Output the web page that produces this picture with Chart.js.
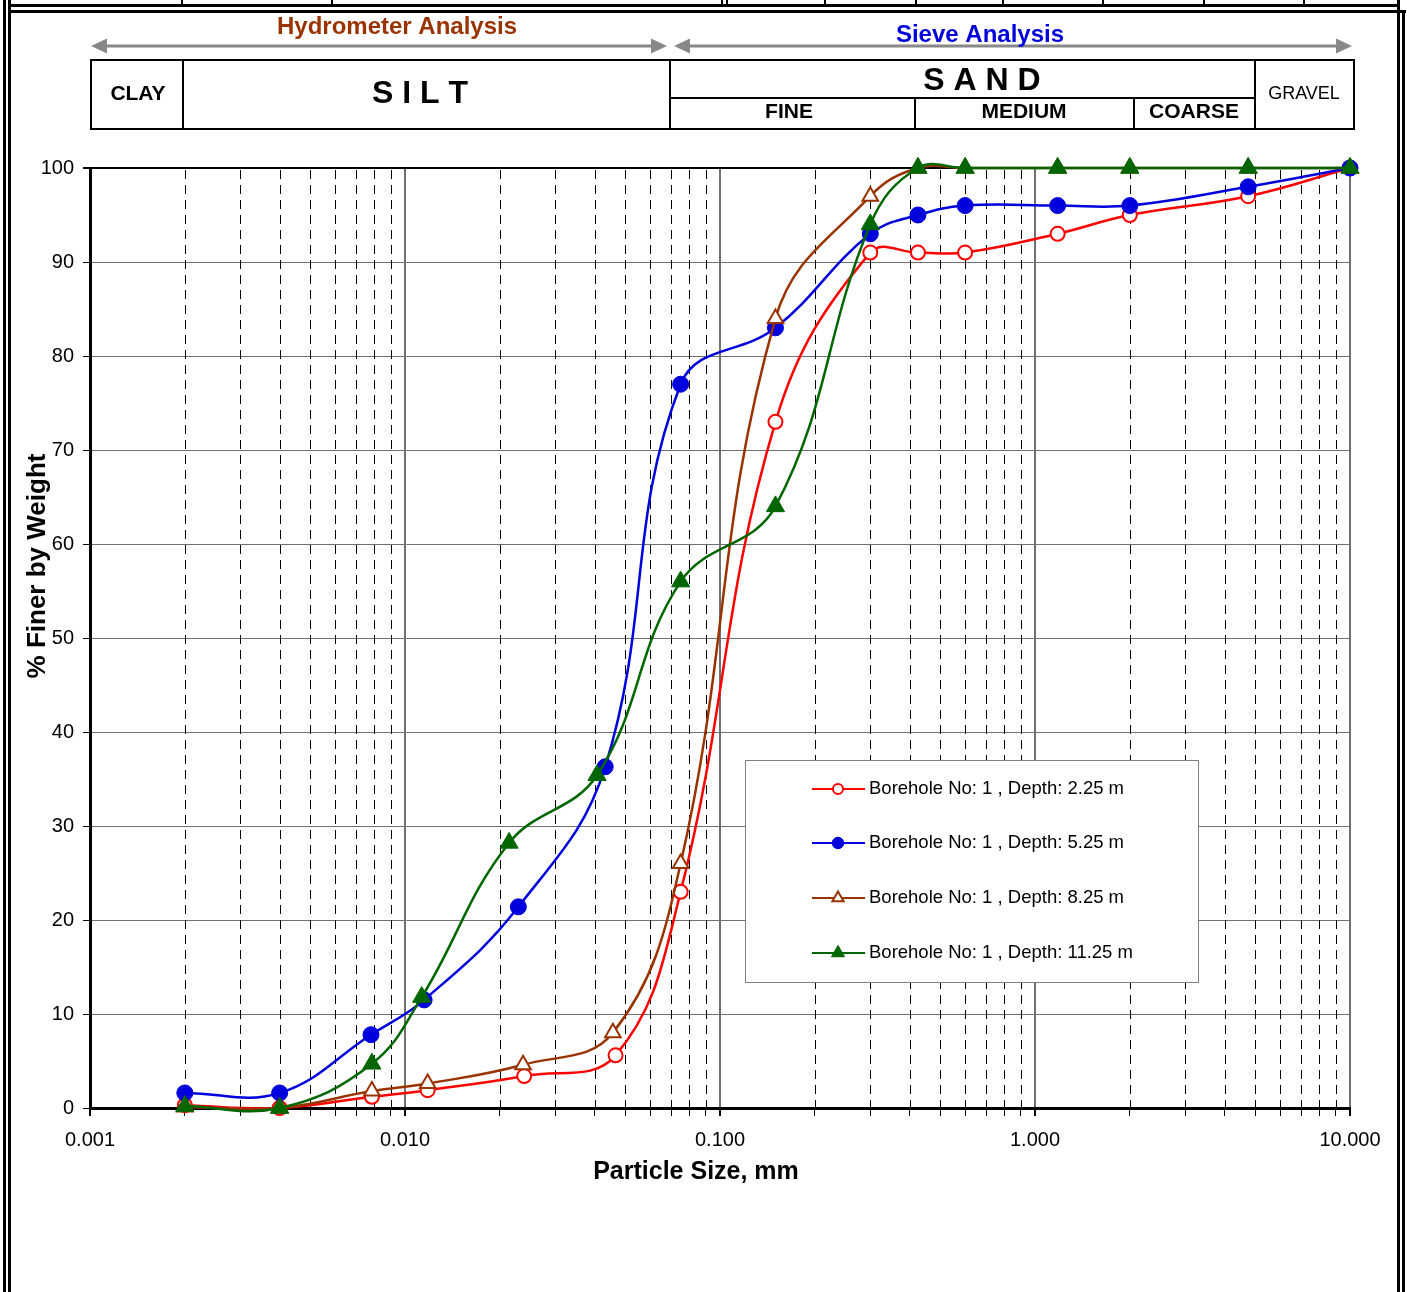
<!DOCTYPE html>
<html>
<head>
<meta charset="utf-8">
<script src="https://cdn.jsdelivr.net/npm/chart.js@4.4.0/dist/chart.umd.min.js"></script>
<style>
html, body { margin: 0; padding: 0; background: #fff; }
#wrap { position: relative; width: 1407px; height: 1292px; }
</style>
</head>
<body>
<div id="wrap"><canvas id="gsdChart" width="1407" height="1292"></canvas></div>
<script>
// grain size distribution - 4 samples from borehole 1
// particle size in mm, % finer by weight

const sizes225 = [0.002, 0.004, 0.00785, 0.0118, 0.0239, 0.0466, 0.075, 0.15, 0.3, 0.425, 0.6, 1.18, 2.0, 4.75, 10];
const finer225 = [0.3, 0, 1.2, 1.9, 3.4, 5.6, 23, 73, 91, 91, 91, 93, 95, 97, 100];

const sizes525 = [0.002, 0.004, 0.0078, 0.0115, 0.0229, 0.0432, 0.075, 0.15, 0.3, 0.425, 0.6, 1.18, 2.0, 4.75, 10];
const finer525 = [1.6, 1.6, 7.8, 11.5, 21.4, 36.3, 77, 83, 93, 95, 96, 96, 96, 98, 100];

const sizes825 = [0.002, 0.004, 0.00785, 0.0118, 0.0237, 0.0457, 0.075, 0.15, 0.3, 0.425, 0.6, 1.18, 2.0, 4.75, 10];
const finer825 = [0.1, 0, 1.8, 2.6, 4.6, 8.0, 26, 84, 97, 100, 100, 100, 100, 100, 100];

const sizes1125 = [0.002, 0.004, 0.00785, 0.0113, 0.0214, 0.0407, 0.075, 0.15, 0.3, 0.425, 0.6, 1.18, 2.0, 4.75, 10];
const finer1125 = [0.2, 0, 4.7, 11.8, 28.2, 35.4, 56, 64, 94, 100, 100, 100, 100, 100, 100];

const seriesLabels = [
    'Borehole No: 1 , Depth: 2.25 m',
    'Borehole No: 1 , Depth: 5.25 m',
    'Borehole No: 1 , Depth: 8.25 m',
    'Borehole No: 1 , Depth: 11.25 m'
];

// axis ticks
const decades = [0.001, 0.01, 0.1, 1, 10];
const decadeLabels = ['0.001', '0.010', '0.100', '1.000', '10.000'];
const minorSteps = [2, 3, 4, 5, 6, 7, 8, 9];
const yTicks = [0, 10, 20, 30, 40, 50, 60, 70, 80, 90, 100];

const FONT = '"Liberation Sans", Arial, Helvetica, sans-serif';
Chart.defaults.font.family = FONT;
Chart.defaults.color = '#000';

// every log grid line : 0.001, 0.002 ... 9, 10
let xGridValues = [];
decades.forEach((d, i) => {
    xGridValues.push(d);
    if (i < decades.length - 1) minorSteps.forEach(m => xGridValues.push(+(d * m).toPrecision(6)));
});

isDecade = (v) => decades.some(d => Math.abs(d - v) / d < 1e-6);

toPoints = (sizes, finer) => sizes.map((s, i) => ({ x: s, y: finer[i] }));

// header / frame / titles / legend drawn straight on the canvas
const sheetPlugin = {
    id: 'sheet',
    beforeDraw(chart) {
        const ctx = chart.ctx;
        ctx.save();
        ctx.fillStyle = '#fff';
        ctx.fillRect(0, 0, chart.width, chart.height);
        ctx.restore();
    },
    beforeDatasetsDraw(chart) {
        // dashed minor log lines
        const { ctx, chartArea: a } = chart;
        const xs = chart.scales.x;
        ctx.save();
        ctx.strokeStyle = '#000';
        ctx.lineWidth = 1;
        ctx.setLineDash([9, 6]);
        xs.ticks.forEach(t => {
            if (isDecade(t.value)) return;
            const px = Math.round(xs.getPixelForValue(t.value)) + 0.5;
            ctx.beginPath();
            ctx.moveTo(px, a.top + 2);
            ctx.lineTo(px, a.bottom);
            ctx.stroke();
        });
        ctx.restore();
    },
    afterDatasetsDraw(chart) {
        // legend box inside plot
        const ctx = chart.ctx;
        const box = { l: 745, t: 760, r: 1198, b: 982 };
        ctx.save();
        ctx.fillStyle = '#fff';
        ctx.fillRect(box.l, box.t, box.r - box.l, box.b - box.t);
        ctx.strokeStyle = '#808080';
        ctx.lineWidth = 1;
        ctx.strokeRect(box.l + 0.5, box.t + 0.5, box.r - box.l, box.b - box.t);
        const rowY = [789, 843, 898, 953];
        chart.data.datasets.forEach((ds, i) => {
            const y = rowY[i];
            ctx.strokeStyle = ds.borderColor;
            ctx.lineWidth = 2;
            ctx.setLineDash([]);
            ctx.beginPath();
            ctx.moveTo(812, y);
            ctx.lineTo(865, y);
            ctx.stroke();
            ctx.fillStyle = ds.pointBackgroundColor;
            ctx.strokeStyle = ds.borderColor;
            ctx.lineWidth = ds.pointBorderWidth;
            Chart.helpers.drawPoint(ctx, {
                pointStyle: ds.pointStyle,
                radius: ds.pointRadius * 0.72,
                rotation: 0,
                borderWidth: ds.pointBorderWidth
            }, 838, y);
            ctx.fillStyle = '#000';
            ctx.font = '18.5px ' + FONT;
            ctx.textAlign = 'left';
            ctx.textBaseline = 'middle';
            ctx.fillText(ds.label, 869, y);
        });
        ctx.restore();
    },
    afterDraw(chart) {
        const ctx = chart.ctx;
        ctx.save();

        // double frame round the sheet
        ctx.fillStyle = '#000';
        ctx.fillRect(3, 0, 3, 1292);
        ctx.fillRect(8, 0, 3, 1292);
        ctx.fillRect(8, 4, 1392, 3);
        ctx.fillRect(8, 10, 1398, 3);
        ctx.fillRect(1397, 0, 3, 1292);
        ctx.fillRect(1402, 10, 3, 1282);
        [181, 331, 721, 726, 824, 915, 1002, 1102, 1203, 1303].forEach(x => ctx.fillRect(x, 0, 2, 5));

        // analysis arrows
        drawArrow(ctx, 91, 667, 46);
        drawArrow(ctx, 674, 1352, 46);
        ctx.textAlign = 'center';
        ctx.textBaseline = 'middle';
        ctx.font = 'bold 24px ' + FONT;
        ctx.fillStyle = '#993300';
        ctx.fillText('Hydrometer Analysis', 397, 27);
        ctx.fillStyle = '#0000DD';
        ctx.fillText('Sieve Analysis', 980, 35);

        // soil classification table
        ctx.strokeStyle = '#000';
        ctx.lineWidth = 2;
        ctx.strokeRect(91, 60, 1263, 69);
        seg(ctx, 183, 60, 183, 129);
        seg(ctx, 670, 60, 670, 129);
        seg(ctx, 1255, 60, 1255, 129);
        seg(ctx, 670, 98, 1255, 98);
        seg(ctx, 915, 98, 915, 129);
        seg(ctx, 1134, 98, 1134, 129);

        ctx.fillStyle = '#000';
        ctx.font = 'bold 21px ' + FONT;
        ctx.fillText('CLAY', 138, 94);
        ctx.fillText('FINE', 789, 112);
        ctx.fillText('MEDIUM', 1024, 112);
        ctx.fillText('COARSE', 1194, 112);
        ctx.font = 'bold 32px ' + FONT;
        ctx.fillText('S I L T', 420, 94);
        ctx.fillText('S A N D', 982, 81);
        ctx.font = '18px ' + FONT;
        ctx.fillText('GRAVEL', 1304, 94);

        // axis titles
        ctx.font = 'bold 25px ' + FONT;
        ctx.fillText('Particle Size, mm', 696, 1172);
        ctx.translate(38, 566);
        ctx.rotate(-Math.PI / 2);
        ctx.font = 'bold 26px ' + FONT;
        ctx.fillText('% Finer by Weight', 0, 0);
        ctx.restore();
    }
};

seg = (ctx, x1, y1, x2, y2) => {
    ctx.beginPath();
    ctx.moveTo(x1, y1);
    ctx.lineTo(x2, y2);
    ctx.stroke();
};

drawArrow = (ctx, x1, x2, y) => {
    ctx.strokeStyle = '#888';
    ctx.fillStyle = '#888';
    ctx.lineWidth = 3;
    seg(ctx, x1 + 12, y, x2 - 12, y);
    ctx.beginPath();
    ctx.moveTo(x1, y);
    ctx.lineTo(x1 + 16, y - 7.5);
    ctx.lineTo(x1 + 16, y + 7.5);
    ctx.closePath();
    ctx.fill();
    ctx.beginPath();
    ctx.moveTo(x2, y);
    ctx.lineTo(x2 - 16, y - 7.5);
    ctx.lineTo(x2 - 16, y + 7.5);
    ctx.closePath();
    ctx.fill();
};

const lineDefaults = {
    borderWidth: 2.5,
    tension: 0.4,
    clip: false,
    showLine: true
};

const gsdChart = new Chart(document.getElementById('gsdChart'), {
    type: 'scatter',
    data: {
        datasets: [
            Object.assign({
                label: seriesLabels[0],
                data: toPoints(sizes225, finer225),
                borderColor: '#FF0000',
                pointBackgroundColor: '#FFFFFF',
                pointStyle: 'circle',
                pointRadius: 7,
                pointBorderWidth: 2,
                order: 3
            }, lineDefaults),
            Object.assign({
                label: seriesLabels[1],
                data: toPoints(sizes525, finer525),
                borderColor: '#0000DD',
                pointBackgroundColor: '#0000DD',
                pointStyle: 'circle',
                pointRadius: 8,
                pointBorderWidth: 1,
                order: 2
            }, lineDefaults),
            Object.assign({
                label: seriesLabels[2],
                data: toPoints(sizes825, finer825),
                borderColor: '#993300',
                pointBackgroundColor: '#FFFFFF',
                pointStyle: 'triangle',
                pointRadius: 9,
                pointBorderWidth: 2,
                order: 1
            }, lineDefaults),
            Object.assign({
                label: seriesLabels[3],
                data: toPoints(sizes1125, finer1125),
                borderColor: '#006600',
                pointBackgroundColor: '#006600',
                pointStyle: 'triangle',
                pointRadius: 10.5,
                pointBorderWidth: 1,
                order: 0
            }, lineDefaults)
        ]
    },
    options: {
        responsive: false,
        animation: false,
        events: [],
        layout: { padding: { left: 0, right: 57, top: 168, bottom: 0 } },
        elements: { line: { capBezierPoints: false } },
        plugins: {
            legend: { display: false },
            tooltip: { enabled: false }
        },
        scales: {
            x: {
                type: 'logarithmic',
                min: 0.001,
                max: 10,
                afterBuildTicks: (scale) => {
                    scale.ticks = xGridValues.map(v => ({ value: v }));
                },
                afterFit: (scale) => { scale.height = 184; },
                ticks: {
                    autoSkip: false,
                    maxRotation: 0,
                    padding: 12,
                    font: { size: 20 },
                    color: '#000',
                    callback: (value) => {
                        const i = decades.findIndex(d => Math.abs(d - value) / d < 1e-6);
                        return i >= 0 ? decadeLabels[i] : '';
                    }
                },
                grid: {
                    color: (c) => isDecade(c.tick.value) ? '#707070' : 'rgba(0,0,0,0)',
                    lineWidth: (c) => isDecade(c.tick.value) ? 2 : 1,
                    tickColor: '#000',
                    tickWidth: (c) => isDecade(c.tick.value) ? 2 : 1,
                    tickLength: 8
                },
                border: { color: '#000', width: 3 }
            },
            y: {
                type: 'linear',
                min: 0,
                max: 100,
                afterBuildTicks: (scale) => {
                    scale.ticks = yTicks.map(v => ({ value: v }));
                },
                afterFit: (scale) => { scale.width = 90; },
                ticks: {
                    padding: 9,
                    font: { size: 20 },
                    color: '#000'
                },
                grid: {
                    color: (c) => c.tick.value === 100 ? '#000' : '#707070',
                    lineWidth: (c) => c.tick.value === 100 ? 2 : 1,
                    tickColor: '#000',
                    tickLength: 7
                },
                border: { color: '#000', width: 3 }
            }
        }
    },
    plugins: [sheetPlugin]
});
</script>
</body>
</html>
